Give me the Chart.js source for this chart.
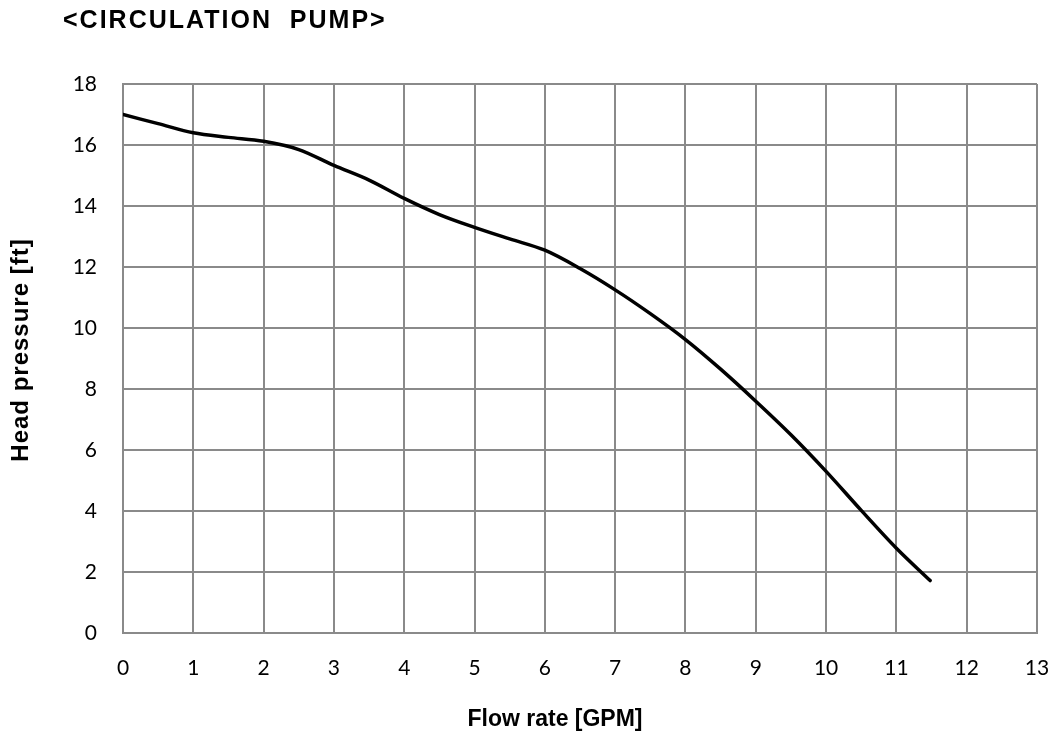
<!DOCTYPE html>
<html>
<head>
<meta charset="utf-8">
<script src="https://cdn.jsdelivr.net/npm/chart.js@4/dist/chart.umd.min.js"></script>
<style>
  html, body { margin: 0; padding: 0; background: #fff; }
  #pump-chart { display: block; }
</style>
</head>
<body>
<canvas id="pump-chart" width="1057" height="740"></canvas>
<script>
// Pump curve
const flowRate = [0, 0.5, 1, 1.5, 2, 2.5, 3, 3.5, 4, 4.5, 5, 5.5, 6, 6.5, 7, 7.5, 8, 8.5, 9, 9.5, 10, 10.5, 11, 11.48];
const headPressure = [17.0, 16.7, 16.4, 16.25, 16.12, 15.85, 15.33, 14.85, 14.25, 13.72, 13.3, 12.92, 12.55, 11.95, 11.25, 10.47, 9.62, 8.65, 7.6, 6.5, 5.3, 4.02, 2.78, 1.72];
const xTicks = [0, 1, 2, 3, 4, 5, 6, 7, 8, 9, 10, 11, 12, 13];
const yTicks = [0, 2, 4, 6, 8, 10, 12, 14, 16, 18];

const chartTitle = '<CIRCULATION  PUMP>';
const xTitle = 'Flow rate [GPM]';
const yTitle = 'Head pressure [ft]';

const gridColor = '#8a8a8a';

// titles drawn at fixed spots like the original sheet
const titlesPlugin = {
    id: 'titles',
    afterDraw(chart) {
        const ctx = chart.ctx;
        ctx.save();
        ctx.fillStyle = '#000';
        ctx.textBaseline = 'middle';

        ctx.font = 'bold 25px "Liberation Sans", Arial, sans-serif';
        ctx.letterSpacing = '2px';
        ctx.textAlign = 'left';
        ctx.fillText(chartTitle, 63, 21);

        ctx.font = 'bold 23px "Liberation Sans", Arial, sans-serif';
        ctx.letterSpacing = '0px';
        ctx.textAlign = 'center';
        ctx.fillText(xTitle, 555, 720);

        ctx.font = 'bold 24px "Liberation Sans", Arial, sans-serif';
        ctx.letterSpacing = '1px';
        ctx.translate(21, 350);
        ctx.rotate(-Math.PI / 2);
        ctx.fillText(yTitle, 0, 0);
        ctx.restore();
    }
};

const ctx = document.getElementById('pump-chart').getContext('2d');
new Chart(ctx, {
    type: 'line',
    data: {
        datasets: [{
            data: flowRate.map((x, i) => ({ x: x, y: headPressure[i] })),
            borderColor: '#000',
            borderWidth: 3.5,
            pointRadius: 0,
            fill: false,
            cubicInterpolationMode: 'monotone',
            borderCapStyle: 'round'
        }]
    },
    options: {
        responsive: false,
        animation: false,
        layout: {
            padding: { left: 0, right: 20, top: 84, bottom: 0 }
        },
        plugins: {
            legend: { display: false },
            title: { display: false },
            tooltip: { enabled: false }
        },
        scales: {
            x: {
                type: 'linear',
                min: 0,
                max: 13,
                afterBuildTicks: (scale) => { scale.ticks = xTicks.map(v => ({ value: v })); },
                afterFit: (scale) => {
                    scale.height = 107;
                    // let the last label hang into the right margin
                    scale.paddingRight = 0;
                    scale.paddingLeft = 0;
                },
                grid: { color: gridColor, lineWidth: 2, drawTicks: false },
                border: { color: gridColor, width: 2 },
                ticks: {
                    color: '#000',
                    padding: 23,
                    font: { family: 'Lato', size: 21 }
                }
            },
            y: {
                min: 0,
                max: 18,
                afterBuildTicks: (scale) => { scale.ticks = yTicks.map(v => ({ value: v })); },
                afterFit: (scale) => {
                    scale.width = 123;
                    scale.paddingTop = 0;
                    scale.paddingBottom = 0;
                },
                grid: { color: gridColor, lineWidth: 2, drawTicks: false },
                border: { color: gridColor, width: 2 },
                ticks: {
                    color: '#000',
                    padding: 26,
                    font: { family: 'Lato', size: 21 }
                }
            }
        }
    },
    plugins: [titlesPlugin]
});
</script>
</body>
</html>
